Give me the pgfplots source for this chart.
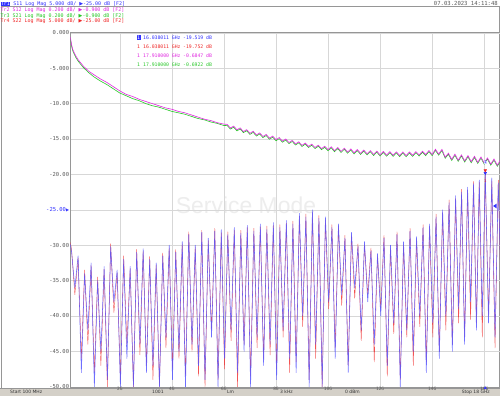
\documentclass[border=0pt]{standalone}
\usepackage{pgfplots}
\pgfplotsset{compat=1.18}
\usepackage{pgfplotstable}
\usepackage{fontspec}
\setmainfont{DejaVu Sans}
\setmonofont{DejaVu Sans Mono}
\newfontfamily\djs{DejaVu Sans}
\newfontfamily\lsans{Liberation Sans}
\definecolor{tblue}{RGB}{50,50,255}
\definecolor{tbluel}{RGB}{85,85,255}
\definecolor{tred}{RGB}{240,40,40}
\definecolor{tmag}{RGB}{225,40,225}
\definecolor{tgreen}{RGB}{40,200,40}
\definecolor{gridc}{RGB}{215,215,215}
\definecolor{framec}{RGB}{150,150,150}
\definecolor{labc}{RGB}{90,90,90}
\definecolor{barc}{RGB}{212,208,200}

\pgfplotstableread{
f s11 s22
0.1 -29.8 -29.6
0.15 -31.0 -30.6
0.275 -36.0 -37.0
0.4 -31.5 -31.8
0.525 -48.0 -46.0
0.65 -34.0 -33.5
0.775 -42.0 -44.0
0.9 -32.5 -32.9
1.025 -50.0 -48.0
1.15 -35.0 -34.5
1.275 -45.0 -47.0
1.4 -33.0 -33.4
1.525 -49.0 -50.0
1.65 -30.2 -29.8
1.775 -38.0 -39.5
1.9 -33.5 -33.9
2.025 -50.0 -49.0
2.15 -32.0 -31.5
2.275 -46.0 -44.0
2.4 -33.0 -33.3
2.525 -50.0 -50.0
2.65 -31.0 -30.6
2.775 -44.0 -45.5
2.9 -30.5 -30.9
3.025 -48.0 -47.0
3.15 -32.0 -31.6
3.275 -47.0 -49.0
3.4 -32.5 -32.8
3.525 -50.0 -50.0
3.65 -31.5 -31.1
3.775 -43.0 -44.5
3.9 -30.0 -30.4
4.025 -49.0 -47.5
4.15 -31.0 -30.6
4.275 -45.0 -46.0
4.4 -29.5 -29.8
4.525 -50.0 -48.5
4.65 -28.5 -28.1
4.775 -44.0 -45.0
4.9 -30.0 -30.3
5.025 -47.0 -48.5
5.15 -28.2 -27.9
5.275 -49.0 -50.0
5.4 -29.0 -29.3
5.525 -43.0 -42.0
5.65 -28.0 -27.6
5.775 -50.0 -49.0
5.9 -27.8 -28.2
6.025 -46.0 -47.5
6.15 -28.5 -28.1
6.275 -42.0 -43.5
6.4 -27.5 -27.9
6.525 -48.0 -50.0
6.65 -28.3 -27.9
6.775 -45.0 -44.0
6.9 -27.2 -27.5
7.025 -50.0 -48.5
7.15 -28.0 -27.6
7.275 -43.0 -44.5
7.4 -27.0 -27.4
7.525 -47.0 -46.0
7.65 -27.8 -27.3
7.775 -44.0 -45.5
7.9 -26.8 -27.2
8.025 -49.0 -47.5
8.15 -27.5 -27.1
8.275 -42.0 -43.0
8.4 -26.5 -26.9
8.525 -46.0 -48.0
8.65 -27.0 -26.6
8.775 -48.0 -46.5
8.9 -25.5 -25.9
9.025 -40.0 -41.5
9.15 -26.0 -25.6
9.275 -50.0 -49.0
9.4 -25.0 -25.4
9.525 -44.0 -46.0
9.65 -26.2 -25.8
9.775 -50.0 -50.0
9.9 -26.0 -26.4
10.025 -38.0 -39.0
10.15 -27.5 -27.1
10.275 -46.0 -44.5
10.4 -27.0 -27.3
10.525 -37.0 -38.5
10.65 -29.0 -28.6
10.775 -48.0 -47.0
10.9 -28.2 -28.6
11.025 -36.0 -37.5
11.15 -30.2 -29.8
11.275 -42.0 -43.5
11.4 -29.5 -29.9
11.525 -38.0 -37.0
11.65 -30.8 -30.4
11.775 -44.0 -46.5
11.9 -31.2 -31.5
12.025 -40.0 -39.0
12.15 -29.0 -28.6
12.275 -47.0 -48.5
12.4 -30.0 -30.4
12.525 -41.0 -42.5
12.65 -28.5 -28.1
12.775 -50.0 -49.0
12.9 -29.5 -29.9
13.025 -42.0 -43.0
13.15 -28.0 -27.6
13.275 -45.0 -47.0
13.4 -28.8 -29.2
13.525 -40.0 -41.5
13.65 -27.5 -27.1
13.775 -48.0 -46.5
13.9 -27.0 -27.4
14.025 -41.0 -43.0
14.15 -26.0 -25.6
14.275 -46.0 -45.0
14.4 -25.0 -25.4
14.525 -40.0 -42.0
14.65 -24.0 -23.6
14.775 -45.0 -44.0
14.9 -23.0 -23.4
15.015 -39.0 -41.0
15.13 -22.5 -22.1
15.245 -44.0 -43.0
15.36 -21.8 -22.2
15.475 -38.0 -40.5
15.59 -21.3 -21.0
15.70 -42.0 -41.0
15.81 -20.8 -21.1
15.925 -40.0 -43.0
16.04 -19.52 -19.75
16.165 -41.0 -40.0
16.29 -20.5 -20.9
16.415 -43.0 -44.5
16.54 -21.2 -20.8
16.665 -39.0 -40.0
16.79 -22.0 -22.4
16.915 -42.0 -43.5
17.04 -23.0 -22.6
17.165 -38.0 -39.5
17.29 -24.0 -24.4
17.415 -44.0 -42.0
17.54 -25.0 -24.6
17.665 -39.0 -41.0
17.79 -26.2 -26.6
17.9 -40.0 -42.5
18.0 -27.0 -26.5
}\refl

\pgfplotstableread{
f s12 s21
0.1 -0.6 -0.8
0.15 -1.7 -1.9
0.2 -2.4 -2.6
0.3 -3.2 -3.4
0.4 -3.8 -4.0
0.6 -4.7 -4.9
0.8 -5.4 -5.6
1.0 -5.9 -6.2
1.25 -6.5 -6.8
1.5 -7.0 -7.3
1.75 -7.6 -7.9
2.0 -8.2 -8.5
2.25 -8.7 -8.9
2.5 -9.0 -9.3
2.75 -9.4 -9.6
3.0 -9.7 -10.0
3.25 -10.0 -10.3
3.5 -10.3 -10.5
3.75 -10.6 -10.8
4.0 -10.8 -11.1
4.25 -11.1 -11.3
4.5 -11.3 -11.5
4.75 -11.6 -11.8
5.0 -11.9 -12.1
5.25 -12.2 -12.3
5.5 -12.4 -12.6
5.75 -12.7 -12.8
6.0 -12.9 -13.1
6.125 -12.93 -13.08
6.25 -13.45 -13.6
6.375 -13.18 -13.33
6.5 -13.7 -13.85
6.625 -13.43 -13.58
6.75 -13.95 -14.1
6.875 -13.68 -13.83
7.0 -14.2 -14.35
7.125 -13.91 -14.06
7.25 -14.43 -14.58
7.375 -14.14 -14.29
7.5 -14.65 -14.8
7.625 -14.36 -14.51
7.75 -14.88 -15.03
7.875 -14.59 -14.74
8.0 -15.1 -15.25
8.125 -14.8 -14.95
8.25 -15.3 -15.45
8.375 -15.0 -15.15
8.5 -15.5 -15.65
8.625 -15.2 -15.35
8.75 -15.7 -15.85
8.875 -15.4 -15.55
9.0 -15.9 -16.05
9.125 -15.58 -15.73
9.25 -16.05 -16.2
9.375 -15.73 -15.88
9.5 -16.2 -16.35
9.625 -15.88 -16.03
9.75 -16.35 -16.5
9.875 -16.03 -16.18
10.0 -16.5 -16.65
10.125 -16.1 -16.25
10.25 -16.65 -16.8
10.375 -16.2 -16.35
10.5 -16.75 -16.9
10.625 -16.3 -16.45
10.75 -16.85 -17.0
10.875 -16.4 -16.55
11.0 -16.95 -17.1
11.125 -16.49 -16.64
11.25 -17.03 -17.18
11.375 -16.56 -16.71
11.5 -17.1 -17.25
11.625 -16.64 -16.79
11.75 -17.18 -17.33
11.875 -16.71 -16.86
12.0 -17.25 -17.4
12.125 -16.76 -16.91
12.25 -17.28 -17.43
12.375 -16.79 -16.94
12.5 -17.3 -17.45
12.625 -16.81 -16.96
12.75 -17.33 -17.48
12.875 -16.84 -16.99
13.0 -17.35 -17.5
13.125 -16.83 -16.98
13.25 -17.3 -17.45
13.375 -16.78 -16.93
13.5 -17.25 -17.4
13.625 -16.73 -16.88
13.75 -17.2 -17.35
13.875 -16.63 -16.78
14.0 -17.2 -17.35
14.125 -16.45 -16.6
14.25 -17.13 -17.28
14.375 -16.47 -16.62
14.5 -17.57 -17.72
14.625 -17.01 -17.16
14.75 -17.88 -18.03
14.875 -17.14 -17.29
15.0 -18.0 -18.15
15.125 -17.25 -17.4
15.25 -18.1 -18.25
15.375 -17.35 -17.5
15.5 -18.2 -18.35
15.625 -17.45 -17.6
15.75 -18.3 -18.45
15.875 -17.55 -17.7
16.0 -18.4 -18.55
16.125 -17.68 -17.83
16.25 -18.55 -18.7
16.375 -17.83 -17.98
16.5 -18.7 -18.85
16.625 -17.98 -18.13
16.75 -18.85 -19.0
16.875 -18.13 -18.28
17.0 -19.0 -19.15
17.125 -18.29 -18.44
17.25 -19.18 -19.33
17.375 -18.6 -18.75
17.5 -19.5 -19.65
17.625 -18.85 -19.0
17.75 -19.75 -19.95
17.875 -19.2 -19.35
18.0 -19.7 -19.85
}\trans

\begin{document}
\begin{tikzpicture}[x=1bp,y=1bp]
\useasboundingbox (0,0) rectangle (500,396);
\fill[white] (0,0) rectangle (500,396);
% status bar
\fill[barc] (0,0) rectangle (500,8);
\draw[framec, line width=0.5pt] (0,8) -- (500,8);
\draw[framec, line width=0.6pt] (1,8) -- (1,389.5) -- (499,389.5) -- (499,8);
% watermark
\node[text=black!7, font=\lsans\fontsize{23}{25}\selectfont] at (246,191) {Service Mode};

\begin{axis}[
  at={(27,13)}, anchor=south west,
  scale only axis, width=466bp, height=354bp,
  xmin=0.1, xmax=18, ymin=-50, ymax=0,
  axis line style={framec, line width=0.6pt},
  grid=major, major grid style={gridc, line width=0.45pt},
  tick style={draw=none},
  xtick={2,4,6,8,10,12,14,16},
  xticklabels={2G,4G,6G,8G,10G,12G,14G,16G},
  ytick={-50,-45,-40,-35,-30,-25,-20,-15,-10,-5,0},
  yticklabels={-50.00,-45.00,-40.00,-35.00,-30.00,{\textcolor{tblue}{-25.00{\djs\fontsize{4}{4}\selectfont ▶}}},-20.00,-15.00,-10.00,-5.000,0.000},
  yticklabel style={font=\ttfamily\fontsize{5.5}{6}\selectfont, text=labc, inner sep=1pt},
  xticklabel style={font=\ttfamily\fontsize{4.5}{5}\selectfont, text=labc, inner sep=0.5pt},
]
\addplot[tred, opacity=0.8, line width=0.4pt, line join=round] table[x=f,y=s22] {\refl};
\addplot[tbluel, opacity=0.85, line width=0.55pt, line join=round] table[x=f,y=s11] {\refl};
\addplot[tgreen, line width=0.6pt] table[x=f,y=s21] {\trans};
\addplot[tmag, line width=0.6pt] table[x=f,y=s12] {\trans};
% markers on traces
\addplot[only marks, mark=triangle*, mark size=1.5pt, mark options={rotate=180, fill=tblue, draw=tblue, yshift=2.2pt}] coordinates {(16.04,-19.52)};
\addplot[only marks, mark=triangle*, mark size=1.5pt, mark options={rotate=180, fill=tred, draw=tred, yshift=-2.2pt}] coordinates {(16.04,-19.75)};
\addplot[only marks, mark=triangle*, mark size=1.4pt, mark options={rotate=180, fill=tgreen, draw=tgreen, yshift=2.2pt}] coordinates {(17.91,-19.64)};
\addplot[only marks, mark=triangle*, mark size=1.4pt, mark options={rotate=180, fill=tmag, draw=tmag, yshift=2.2pt}] coordinates {(17.91,-19.62)};
% stimulus indicators at the bottom
\addplot[only marks, mark=triangle*, mark size=1.3pt, mark options={fill=tblue, draw=tblue, yshift=-1.2pt}] coordinates {(16.04,-50)};
\addplot[only marks, mark=triangle*, mark size=1.3pt, mark options={fill=tgreen, draw=tgreen, yshift=-1.2pt}] coordinates {(17.91,-50)};
\node[font=\ttfamily\fontsize{4}{4}\selectfont, text=tblue, fill=tblue!20, inner sep=0.4pt] at (axis cs:16.04,-19.52) [yshift=8.5pt] {1};
\node[font=\ttfamily\fontsize{4}{4}\selectfont, text=tred, inner sep=0.4pt] at (axis cs:16.04,-19.75) [yshift=-8.5pt] {1};
\node[font=\ttfamily\fontsize{4}{4}\selectfont, text=tgreen, inner sep=0.4pt, anchor=east] at (axis cs:17.8,-19.7) [yshift=-8pt] {1TR};
\end{axis}
% right reference arrow
\fill[tblue] (493,190) -- (496.5,192.3) -- (496.5,187.7) -- cycle;

% header
\begin{scope}[every node/.style={anchor=west, inner sep=0pt, font=\ttfamily\fontsize{5}{5}\selectfont}]
\node[text=tblue] at (0.5,392) {{\setlength\fboxsep{0.3pt}\colorbox{tblue}{\textcolor{white}{Tr1}}} S11 Log Mag 5.000 dB/ {\djs ▶}-25.00 dB [F2]};
\node[text=tmag] at (0.5,386) {Tr2 S12 Log Mag 0.200 dB/ {\djs ▶}-0.900 dB [F2]};
\node[text=tgreen] at (0.5,380.3) {Tr3 S21 Log Mag 0.200 dB/ {\djs ▶}-0.900 dB [F2]};
\node[text=tred] at (0.5,374.7) {Tr4 S22 Log Mag 5.000 dB/ {\djs ▶}-25.00 dB [F2]};
\end{scope}
\node[anchor=east, inner sep=0pt, font=\ttfamily\fontsize{5.6}{6}\selectfont, text=labc] at (498,393) {07.03.2023 14:11:48};

% marker table
\begin{scope}[every node/.style={anchor=west, inner sep=0pt, font=\ttfamily\fontsize{4.8}{5}\selectfont}]
\node[text=white, fill=tblue, inner sep=0.5pt] at (136.5,358.5) {1};
\node[text=tblue] at (143,358.5) {16.038011 GHz};
\node[text=tblue] at (183,358.5) {-19.519 dB};
\node[text=tred] at (137,349.5) {1};
\node[text=tred] at (143,349.5) {16.038011 GHz};
\node[text=tred] at (183,349.5) {-19.752 dB};
\node[text=tmag] at (137,340.5) {1};
\node[text=tmag] at (143,340.5) {17.910000 GHz};
\node[text=tmag] at (183,340.5) {-0.6847 dB};
\node[text=tgreen] at (137,331.5) {1};
\node[text=tgreen] at (143,331.5) {17.910000 GHz};
\node[text=tgreen] at (183,331.5) {-0.6922 dB};
\end{scope}

% status bar text
\begin{scope}[every node/.style={inner sep=0pt, font=\fontsize{4.5}{5}\selectfont, text=black!80}]
\node[anchor=west] at (10,4) {Start 100 MHz};
\node[anchor=west] at (152,4) {1001};
\node[anchor=west] at (227,4) {Lm};
\node[anchor=west] at (280,4) {3 kHz};
\node[anchor=west] at (345,4) {0 dBm};
\node[anchor=east] at (490,4) {Stop 18 GHz};
\end{scope}
\end{tikzpicture}
\end{document}
